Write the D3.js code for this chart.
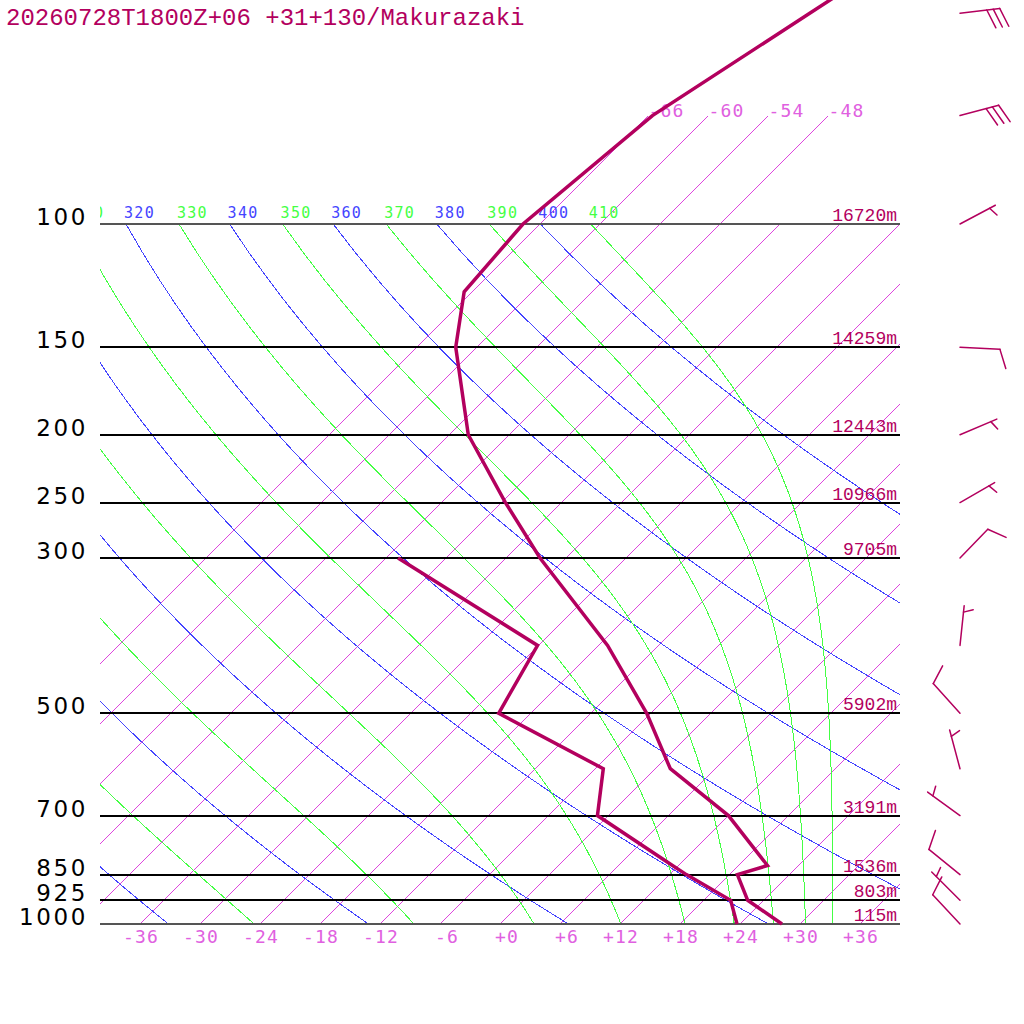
<!DOCTYPE html>
<html>
<head>
<meta charset="utf-8">
<script src="https://cdn.jsdelivr.net/npm/d3@7"></script>
<style>
  body { margin: 0; background: #fff; }
  svg { display: block; background: #fff; }
  .mono { font-family: 'DejaVu Sans Mono', monospace; }
</style>
</head>
<body>
<svg id="chart" width="1024" height="1024"></svg>
<script>
// ---------- DATA ----------
const title = '20260728T1800Z+06 +31+130/Makurazaki';

// sounding levels (hPa), temperature and dewpoint (degC)
const levels = [1000, 925, 850, 825, 700, 600, 500, 400, 300, 250, 200, 150, 125, 100, 70, 50, 30];
const temps = [28.2, 22.4, 18.8, 20.9, 12.0, 1.5, -6.4, -17.1, -32.6, -41.6, -52.1, -62.1, -66.8, -67.7, -65.6, -60.1, -51.8];
const dewpoints = [23.7, 20.7, 13.7, 11.4, -1.1, -5.2, -21.2, -24.1, -46.8, null, null, null, null, null, null, null, null];

// labelled pressure lines and geopotential heights
const pressureTicks = [1000, 925, 850, 700, 500, 300, 250, 200, 150, 100];
const heights = ['115m', '803m', '1536m', '3191m', '5902m', '9705m', '10966m', '12443m', '14259m', '16720m'];

// winds: direction (deg, from) and speed (kt)
const windLevels = [1000, 925, 850, 700, 600, 500, 400, 300, 250, 200, 150, 100, 70, 50];
const windDir = [317, 315, 309, 306, 345, 318, 6, 44, 60, 67, 93, 62, 75, 83];
const windSpd = [10, 5, 10, 5, 5, 10, 5, 10, 5, 5, 10, 5, 30, 30];

// background lines
const isotherms = d3.range(-66, 37, 6);          // degC, every 6
const upperIsotherms = [-66, -60, -54, -48];     // extended to 70 hPa, labelled
const tempTicks = d3.range(-36, 37, 6);
const dryAdiabats = d3.range(240, 401, 20);      // theta, K
const moistAdiabats = d3.range(250, 411, 20);    // theta-e, K

// ---------- SCALES ----------
const svg = d3.select('#chart');
const left = 100, right = 900, bottom = 924;
const y = d3.scaleLog().domain([1000, 100]).range([bottom, 224]);
const xT = d3.scaleLinear().domain([-36, 36]).range([140, 860]);
// 45 degree skew: isotherms move one pixel right for every pixel up
const sx = (t, p) => xT(t) + (bottom - y(p));

const PURPLE = '#dd44dd', PINK = '#e060e0', BLUE = '#4444ff', GREEN = '#44ff44', DARK = '#b3005e';

// ---------- THERMODYNAMICS for the adiabats ----------
const eps = 0.622;
const es = (tc) => 6.112 * Math.exp((17.67 * tc) / (tc + 243.5));
// saturated equivalent potential temperature (Bolton 1980)
function thetaE(tc, p) {
  const T = tc + 273.15, e = es(tc), r = (1000 * eps * e) / (p - e);
  return T * Math.pow(1000 / p, 0.2854 * (1 - 0.00028 * r)) *
    Math.exp((3.376 / T - 0.00254) * r * (1 + 0.00081 * r));
}
// pseudo-adiabat: temperature keeping theta-e constant at each level
function moistCurve(te) {
  return d3.range(1000, 99, -10).map((p) => {
    let lo = -130, hi = 50;
    for (let i = 0; i < 50; i++) {
      const mid = (lo + hi) / 2;
      if (thetaE(mid, p) > te) hi = mid; else lo = mid;
    }
    return { p, t: (lo + hi) / 2 };
  });
}
function dryCurve(theta) {
  return d3.range(1000, 99, -10).map((p) => ({ p, t: theta * Math.pow(p / 1000, 0.2857) - 273.15 }));
}

const line = d3.line().defined((d) => d.t != null).x((d) => sx(d.t, d.p)).y((d) => y(d.p));

svg.append('defs').append('clipPath').attr('id', 'plot')
  .append('rect').attr('x', left).attr('y', 0).attr('width', right - left).attr('height', bottom);

const plot = svg.append('g').attr('clip-path', 'url(#plot)');
const grid = plot.append('g').attr('fill', 'none').attr('stroke-width', 1)
  .attr('shape-rendering', 'crispEdges');

// isotherms
grid.append('g').selectAll('path').data(isotherms).join('path')
  .attr('d', (t) => line([{ p: 1000, t }, { p: upperIsotherms.includes(t) ? 70 : 100, t }]))
  .attr('stroke', PURPLE);

// dry adiabats
grid.append('g').selectAll('path').data(dryAdiabats).join('path')
  .attr('d', (th) => line(dryCurve(th)))
  .attr('stroke', BLUE);

// moist adiabats
grid.append('g').selectAll('path').data(moistAdiabats).join('path')
  .attr('d', (te) => line(moistCurve(te)))
  .attr('stroke', GREEN);

// adiabat labels at 100 hPa (the ones left of the frame are cut by it)
const adiabatLabels = dryAdiabats.map((v) => ({ v, c: BLUE, x: sx(dryCurve(v).pop().t, 100) }))
  .concat(moistAdiabats.map((v) => ({ v, c: GREEN, x: sx(moistCurve(v).pop().t, 100) })))
  .filter((d) => d.x > 60);
plot.append('g').selectAll('text').data(adiabatLabels).join('text')
  .attr('class', 'mono').attr('x', (d) => d.x - 2).attr('y', y(100) - 6)
  .attr('font-size', 15).attr('letter-spacing', 1.3).attr('fill', (d) => d.c)
  .text((d) => d.v);

// pressure lines
svg.append('g').attr('shape-rendering', 'crispEdges')
  .selectAll('line').data(pressureTicks).join('line')
  .attr('x1', left).attr('x2', right).attr('y1', (p) => Math.round(y(p))).attr('y2', (p) => Math.round(y(p)))
  .attr('stroke', (p) => (p === 1000 || p === 100 ? '#555' : '#000'))
  .attr('stroke-width', (p) => (p === 1000 || p === 100 ? 2 : 1.5));

// pressure labels
svg.append('g').selectAll('text').data(pressureTicks).join('text')
  .attr('x', 88).attr('y', (p) => y(p) + 1).attr('text-anchor', 'end')
  .attr('font-family', 'DejaVu Sans, sans-serif').attr('font-size', 23)
  .attr('letter-spacing', 2.6).attr('fill', '#000')
  .text((p) => p);

// height labels
svg.append('g').selectAll('text').data(pressureTicks).join('text')
  .attr('x', 897).attr('y', (p) => y(p) - 3).attr('text-anchor', 'end')
  .attr('font-family', 'Courier New, Liberation Mono, monospace').attr('font-size', 18)
  .attr('fill', DARK).text((p, i) => heights[i]);

// temperature tick labels along the bottom
svg.append('g').selectAll('text').data(tempTicks).join('text')
  .attr('class', 'mono').attr('x', (t) => xT(t) + 19).attr('y', 943).attr('text-anchor', 'end')
  .attr('font-size', 18).attr('letter-spacing', 1.2).attr('fill', PINK)
  .text((t) => (t >= 0 ? '+' + t : String(t)));

// upper isotherm labels at 70 hPa
svg.append('g').selectAll('text').data(upperIsotherms).join('text')
  .attr('class', 'mono').attr('x', (t) => sx(t, 70)).attr('y', y(70) + 1)
  .attr('font-size', 18).attr('letter-spacing', 1.2).attr('fill', PINK)
  .text((t) => t);

// sounding
const sounding = levels.map((p, i) => ({ p, t: temps[i], td: dewpoints[i] }));
const profile = svg.append('g').attr('fill', 'none').attr('stroke', DARK)
  .attr('stroke-width', 3.5).attr('stroke-linejoin', 'miter');
profile.append('path').attr('d', line(sounding.map((d) => ({ p: d.p, t: d.td }))));
profile.append('path').attr('d', line(sounding));

// wind barbs
const barbs = svg.append('g').attr('stroke', DARK).attr('stroke-width', 1.5)
  .attr('fill', 'none').attr('stroke-linecap', 'round');
windLevels.forEach((p, i) => {
  const x0 = 960, y0 = y(p);
  const a = ((windDir[i] - 90) * Math.PI) / 180;
  const ux = Math.cos(a), uy = Math.sin(a);
  const fa = a + (70 * Math.PI) / 180;
  const fx = Math.cos(fa), fy = Math.sin(fa);
  const len = 40, gap = 6.5;
  barbs.append('line').attr('x1', x0).attr('y1', y0)
    .attr('x2', x0 + ux * len).attr('y2', y0 + uy * len);
  let pos = len;
  const full = Math.floor(windSpd[i] / 10), half = Math.round((windSpd[i] % 10) / 5);
  if (full === 0) pos -= gap;
  for (let k = 0; k < full + half; k++) {
    const fl = k < full ? 20 : 10;
    const bx = x0 + ux * pos, by = y0 + uy * pos;
    barbs.append('line').attr('x1', bx).attr('y1', by)
      .attr('x2', bx + fx * fl).attr('y2', by + fy * fl);
    pos -= gap;
  }
});

// title
svg.append('text').attr('x', 6).attr('y', 25)
  .attr('font-family', 'Courier New, Liberation Mono, monospace').attr('font-size', 24)
  .attr('fill', DARK).text(title);
</script>
</body>
</html>
